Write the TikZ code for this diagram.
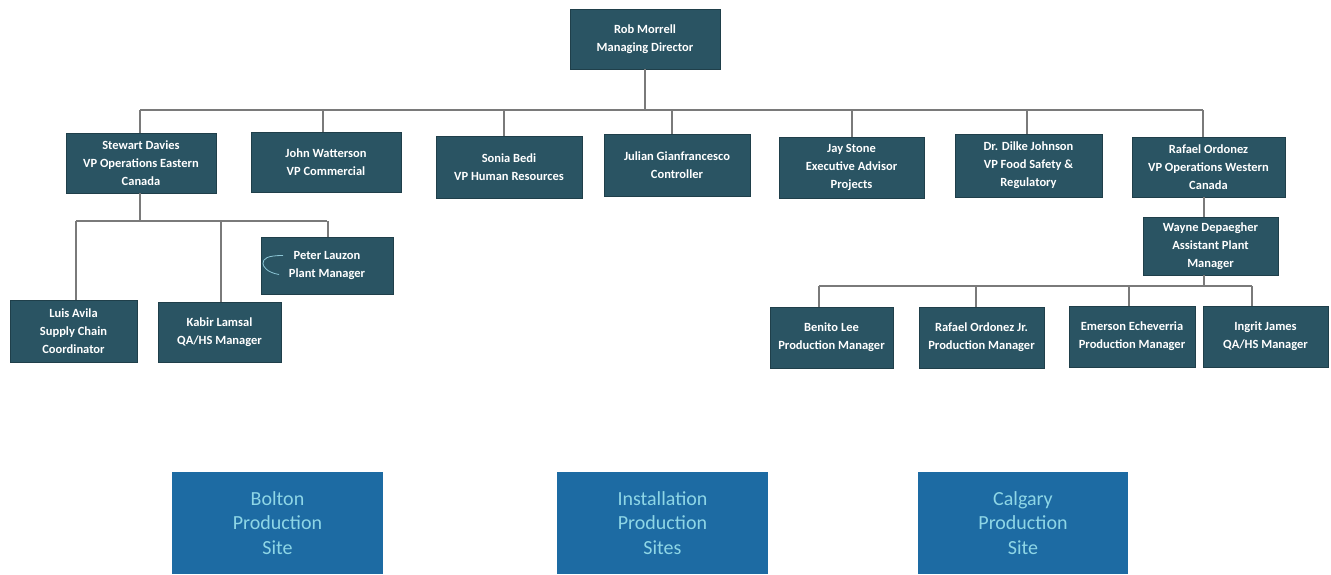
\documentclass[tikz,border=0pt]{standalone}
\usepackage{fontspec}
\setmainfont{Carlito}
\definecolor{boxdark}{HTML}{2A5463}
\definecolor{boxedge}{HTML}{1F3F4A}
\definecolor{siteblue}{HTML}{1D6BA3}
\definecolor{sitetext}{HTML}{8ED6E6}
\definecolor{linegray}{HTML}{7A7A7A}
\definecolor{arcblue}{HTML}{8CC6D6}
\tikzset{
  person/.style={draw=boxedge, line width=0.8pt, fill=boxdark, text=white, align=center,
    inner sep=0pt, font=\fontsize{12.5}{18}\selectfont\bfseries},
  site/.style={fill=siteblue, text=sitetext, align=center, inner sep=0pt,
    minimum width=211pt, minimum height=102pt, font=\fontsize{20}{24.5}\selectfont},
  link/.style={draw=linegray, line width=1.1pt},
}
\newcommand{\nm}[1]{#1}
\begin{document}
\begin{tikzpicture}[x=1pt,y=-1pt]
\useasboundingbox (0,0) rectangle (1331,574);
% top
\node[person, minimum width=150pt, minimum height=60pt] (rob) at (645,39) {\nm{Rob Morrell}\\\nm{Managing Director}};
% VP row
\node[person, minimum width=150pt, minimum height=60pt] (stewart) at (141,163) {\nm{Stewart Davies}\\VP Operations Eastern\\Canada};
\node[person, minimum width=150pt, minimum height=60pt] (john) at (326,162) {\nm{John Watterson}\\VP Commercial};
\node[person, minimum width=146pt, minimum height=62pt] (sonia) at (509,167) {\nm{Sonia Bedi}\\VP Human Resources};
\node[person, minimum width=146pt, minimum height=62pt] (julian) at (677,165) {\nm{Julian Gianfrancesco}\\Controller};
\node[person, minimum width=145pt, minimum height=61pt] (jay) at (851.5,167.5) {\nm{Jay Stone}\\Executive Advisor\\Projects};
\node[person, minimum width=147pt, minimum height=63pt] (dilke) at (1028.5,165.5) {\nm{Dr. Dilke Johnson}\\VP Food Safety \&\\Regulatory};
\node[person, minimum width=153pt, minimum height=60pt] (rafael) at (1208.5,167) {\nm{Rafael Ordonez}\\VP Operations Western\\Canada};
% Stewart's team
\node[person, minimum width=127pt, minimum height=62pt] (luis) at (73.5,331) {\nm{Luis Avila}\\Supply Chain\\Coordinator};
\node[person, minimum width=123pt, minimum height=60pt] (kabir) at (219.5,332) {\nm{Kabir Lamsal}\\QA/HS Manager};
\node[person, minimum width=132pt, minimum height=57pt] (peter) at (327,265.5) {\nm{Peter Lauzon}\\Plant Manager};
% Rafael's team
\node[person, minimum width=135pt, minimum height=58pt] (wayne) at (1210.5,246) {\nm{Wayne Depaegher}\\Assistant Plant\\Manager};
\node[person, minimum width=123pt, minimum height=61pt] (benito) at (831.5,337.5) {\nm{Benito Lee}\\Production Manager};
\node[person, minimum width=125pt, minimum height=61pt] (rafjr) at (981.5,337.5) {\nm{Rafael Ordonez Jr.}\\Production Manager};
\node[person, minimum width=126pt, minimum height=61pt] (emerson) at (1132,336.5) {\nm{Emerson Echeverria}\\Production Manager};
\node[person, minimum width=125pt, minimum height=61pt] (ingrit) at (1265.5,336.5) {\nm{Ingrit James}\\QA/HS Manager};
% sites
\node[site] (bolton) at (277.5,523) {Bolton\\Production\\Site};
\node[site] (install) at (662.5,523) {Installation\\Production\\Sites};
\node[site, minimum width=210pt] (calgary) at (1023,523) {Calgary\\Production\\Site};
% bus coordinates
\coordinate (bus1) at (645,110);
\coordinate (bus2) at (140,221);
\coordinate (bus3) at (1204,286);
% top bus
\draw[link] (rob.south) -- (bus1);
\draw[link] ([xshift=-1pt]stewart.north |- bus1) -- ([xshift=-5.5pt]rafael.north |- bus1);
\foreach \n/\dx in {stewart/-1, john/-3, sonia/-5, julian/-5, jay/0.5, dilke/-1.5, rafael/-5.5}
  \draw[link] ([xshift=\dx pt]\n.north) -- ([xshift=\dx pt]\n.north |- bus1);
% Stewart's team
\draw[link] ([xshift=-1pt]stewart.south) -- ([xshift=-1pt]stewart.south |- bus2);
\draw[link] ([xshift=2.5pt]luis.north |- bus2) -- (peter.north |- bus2);
\foreach \n/\dx in {luis/2.5, kabir/1.5, peter/1}
  \draw[link] ([xshift=\dx pt]\n.north) -- ([xshift=\dx pt]\n.north |- bus2);
% Rafael's team
\draw[link] ([xshift=-4.5pt]rafael.south) -- ([xshift=-6.5pt]wayne.north);
\draw[link] ([xshift=-6.5pt]wayne.south) -- ([xshift=-6.5pt]wayne.south |- bus3);
\draw[link] ([xshift=-12.5pt]benito.north |- bus3) -- ([xshift=-13.5pt]ingrit.north |- bus3);
\foreach \n/\dx in {benito/-12.5, rafjr/-5.5, emerson/-3, ingrit/-13.5}
  \draw[link] ([xshift=\dx pt]\n.north) -- ([xshift=\dx pt]\n.north |- bus3);
% faint arc on Peter's box
\draw[arcblue, line width=0.8pt] ([xshift=-48pt,yshift=-9pt]peter.center) .. controls ([xshift=-60pt,yshift=-7pt]peter.center) and ([xshift=-64pt,yshift=-1pt]peter.center) .. ([xshift=-64pt,yshift=2pt]peter.center) .. controls ([xshift=-64pt,yshift=7pt]peter.center) and ([xshift=-60pt,yshift=10pt]peter.center) .. ([xshift=-44pt,yshift=10pt]peter.center);
\end{tikzpicture}
\end{document}
